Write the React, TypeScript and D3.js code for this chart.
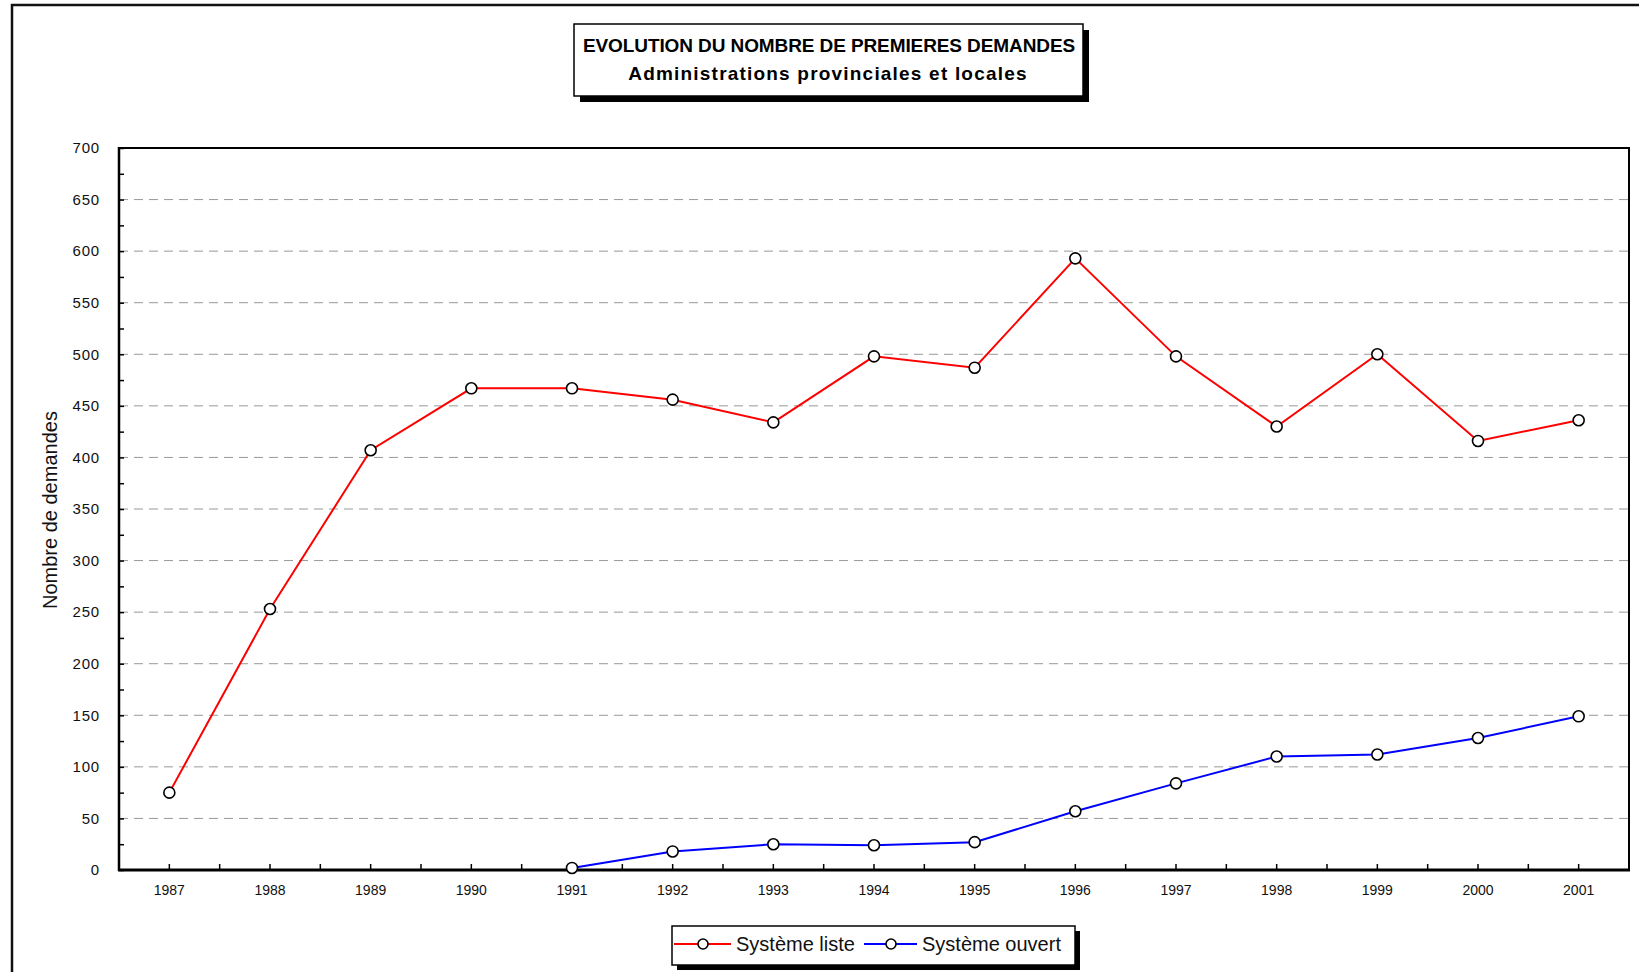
import * as React from "react";
import * as d3 from "d3";

const years = ["1987", "1988", "1989", "1990", "1991", "1992", "1993", "1994", "1995", "1996", "1997", "1998", "1999", "2000", "2001"];
const systemeListe: (number | null)[] = [75, 253, 407, 467, 467, 456, 434, 498, 487, 593, 498, 430, 500, 416, 436];
const systemeOuvert: (number | null)[] = [null, null, null, null, 2, 18, 25, 24, 27, 57, 84, 110, 112, 128, 149];
const yTicks = [0, 50, 100, 150, 200, 250, 300, 350, 400, 450, 500, 550, 600, 650, 700];
const titleLines = ["EVOLUTION DU NOMBRE DE PREMIERES DEMANDES", "Administrations provinciales et locales"];
const seriesNames = ["Système liste", "Système ouvert"];
const seriesColors = ["#ff0000", "#0000ff"];

const W = 1639;
const H = 972;
const FONT = '"Liberation Sans", Arial, sans-serif';

interface Pt {
  year: string;
  value: number | null;
}

const App: React.FunctionComponent = () => {
  const svgRef = React.useRef<SVGSVGElement>(null);

  React.useEffect(() => {
    document.body.style.margin = "0";
    const svgElement = svgRef.current;
    if (!svgElement) return;
    while (svgElement.firstChild) svgElement.removeChild(svgElement.firstChild);

    const svg = d3.select(svgElement);
    const plot = { left: 119, right: 1629, top: 148, bottom: 870 };

    const x = d3.scaleBand<string>().domain(years).range([plot.left, plot.right]).padding(0);
    const y = d3.scaleLinear().domain([0, 700]).range([plot.bottom, plot.top]);
    const cx = (d: string) => (x(d) ?? 0) + x.bandwidth() / 2;

    svg.append("rect").attr("width", W).attr("height", H).attr("fill", "#fff");

    // outer chart frame (runs off the right and bottom edges)
    svg.append("path")
      .attr("d", `M12,${H + 5} V5 H${W + 5}`)
      .attr("fill", "none")
      .attr("stroke", "#111")
      .attr("stroke-width", 2.5);

    // title box with shadow
    const tb = { x: 574, y: 24, w: 509, h: 72 };
    svg.append("rect").attr("x", tb.x + 6).attr("y", tb.y + 6).attr("width", tb.w).attr("height", tb.h).attr("fill", "#000");
    svg.append("rect").attr("x", tb.x).attr("y", tb.y).attr("width", tb.w).attr("height", tb.h)
      .attr("fill", "#fff").attr("stroke", "#000").attr("stroke-width", 1.5);
    svg.append("text")
      .attr("x", 829).attr("y", 52)
      .attr("text-anchor", "middle")
      .attr("font-family", FONT).attr("font-weight", "bold").attr("font-size", 19)
      .attr("letter-spacing", -0.1)
      .text(titleLines[0]);
    svg.append("text")
      .attr("x", 828).attr("y", 80)
      .attr("text-anchor", "middle")
      .attr("font-family", FONT).attr("font-weight", "bold").attr("font-size", 19)
      .attr("letter-spacing", 1.2)
      .text(titleLines[1]);

    // gridlines
    svg.append("g")
      .selectAll("line")
      .data(yTicks.filter((t) => t > 0 && t < 700))
      .enter()
      .append("line")
      .attr("x1", plot.left).attr("x2", plot.right)
      .attr("y1", (d) => y(d)).attr("y2", (d) => y(d))
      .attr("stroke", "#999").attr("stroke-width", 1)
      .attr("stroke-dasharray", "9,6");

    // plot border top / right
    svg.append("path")
      .attr("d", `M${plot.left},${plot.top} H${plot.right} V${plot.bottom}`)
      .attr("fill", "none").attr("stroke", "#000").attr("stroke-width", 2);

    // y axis: inward ticks every 25
    const yAxis = d3.axisRight(y)
      .tickValues(d3.range(0, 701, 25))
      .tickSize(5)
      .tickFormat(() => "");
    const gy = svg.append("g").attr("transform", `translate(${plot.left},0)`).call(yAxis);
    gy.select(".domain").remove();
    gy.selectAll(".tick line").attr("stroke", "#000").attr("stroke-width", 1.5);
    svg.append("line")
      .attr("x1", plot.left).attr("x2", plot.left)
      .attr("y1", plot.top - 1).attr("y2", plot.bottom + 1)
      .attr("stroke", "#000").attr("stroke-width", 2.5);

    svg.append("g")
      .selectAll("text")
      .data(yTicks)
      .enter()
      .append("text")
      .attr("x", 100)
      .attr("y", (d) => y(d))
      .attr("dy", "0.35em")
      .attr("text-anchor", "end")
      .attr("font-family", FONT).attr("font-size", 15)
      .attr("letter-spacing", 0.8)
      .attr("fill", "#111")
      .text((d) => d);

    // x axis: ticks at band edges and centers, pointing up
    const xTickPos: number[] = [];
    years.forEach((yr) => {
      xTickPos.push(x(yr) ?? 0);
      xTickPos.push(cx(yr));
    });
    xTickPos.push(plot.right);
    svg.append("g")
      .selectAll("line")
      .data(xTickPos)
      .enter()
      .append("line")
      .attr("x1", (d) => d).attr("x2", (d) => d)
      .attr("y1", plot.bottom).attr("y2", plot.bottom - 6)
      .attr("stroke", "#000").attr("stroke-width", 1.5);
    svg.append("line")
      .attr("x1", plot.left - 1).attr("x2", plot.right + 1)
      .attr("y1", plot.bottom).attr("y2", plot.bottom)
      .attr("stroke", "#000").attr("stroke-width", 3);

    svg.append("g")
      .selectAll("text")
      .data(years)
      .enter()
      .append("text")
      .attr("x", (d) => cx(d))
      .attr("y", 895)
      .attr("text-anchor", "middle")
      .attr("font-family", FONT).attr("font-size", 14)
      .attr("fill", "#111")
      .text((d) => d);

    // y axis title, clipped at the top like the original
    const defs = svg.append("defs");
    defs.append("clipPath").attr("id", "ytitle-clip")
      .append("rect").attr("x", 20).attr("y", 407).attr("width", 80).attr("height", 300);
    svg.append("g")
      .attr("clip-path", "url(#ytitle-clip)")
      .append("text")
      .attr("transform", "translate(57,609) rotate(-90)")
      .attr("font-family", FONT).attr("font-size", 20)
      .attr("fill", "#111")
      .text("Nombre de demandes");

    // series
    const line = d3.line<Pt>()
      .defined((d) => d.value !== null)
      .x((d) => cx(d.year))
      .y((d) => y(d.value as number));

    const series = [systemeListe, systemeOuvert].map((vals) =>
      years.map((yr, i) => ({ year: yr, value: vals[i] }))
    );

    series.forEach((pts, i) => {
      svg.append("path")
        .attr("d", line(pts))
        .attr("fill", "none")
        .attr("stroke", seriesColors[i])
        .attr("stroke-width", 2);
    });
    series.forEach((pts) => {
      svg.append("g")
        .selectAll("circle")
        .data(pts.filter((p) => p.value !== null))
        .enter()
        .append("circle")
        .attr("cx", (d) => cx(d.year))
        .attr("cy", (d) => y(d.value as number))
        .attr("r", 5.5)
        .attr("fill", "#fff")
        .attr("stroke", "#000")
        .attr("stroke-width", 1.6);
    });

    // legend
    const lb = { x: 672, y: 926, w: 403, h: 39 };
    svg.append("rect").attr("x", lb.x + 5).attr("y", lb.y + 5).attr("width", lb.w).attr("height", lb.h).attr("fill", "#000");
    svg.append("rect").attr("x", lb.x).attr("y", lb.y).attr("width", lb.w).attr("height", lb.h)
      .attr("fill", "#fff").attr("stroke", "#000").attr("stroke-width", 1.5);
    const legendItems = [
      { x1: 674, x2: 731, mx: 703, tx: 736 },
      { x1: 864, x2: 917, mx: 891, tx: 922 },
    ];
    const ly = 944;
    legendItems.forEach((it, i) => {
      svg.append("line")
        .attr("x1", it.x1).attr("x2", it.x2).attr("y1", ly).attr("y2", ly)
        .attr("stroke", seriesColors[i]).attr("stroke-width", 2);
      svg.append("circle")
        .attr("cx", it.mx).attr("cy", ly).attr("r", 5)
        .attr("fill", "#fff").attr("stroke", "#000").attr("stroke-width", 1.6);
      svg.append("text")
        .attr("x", it.tx).attr("y", ly + 7)
        .attr("font-family", FONT).attr("font-size", 20)
        .attr("fill", "#111")
        .text(seriesNames[i]);
    });

    return () => {
      while (svgElement.firstChild) svgElement.removeChild(svgElement.firstChild);
    };
  }, []);

  return <svg ref={svgRef} width={W} height={H} style={{ display: "block" }} />;
};

export default App;
